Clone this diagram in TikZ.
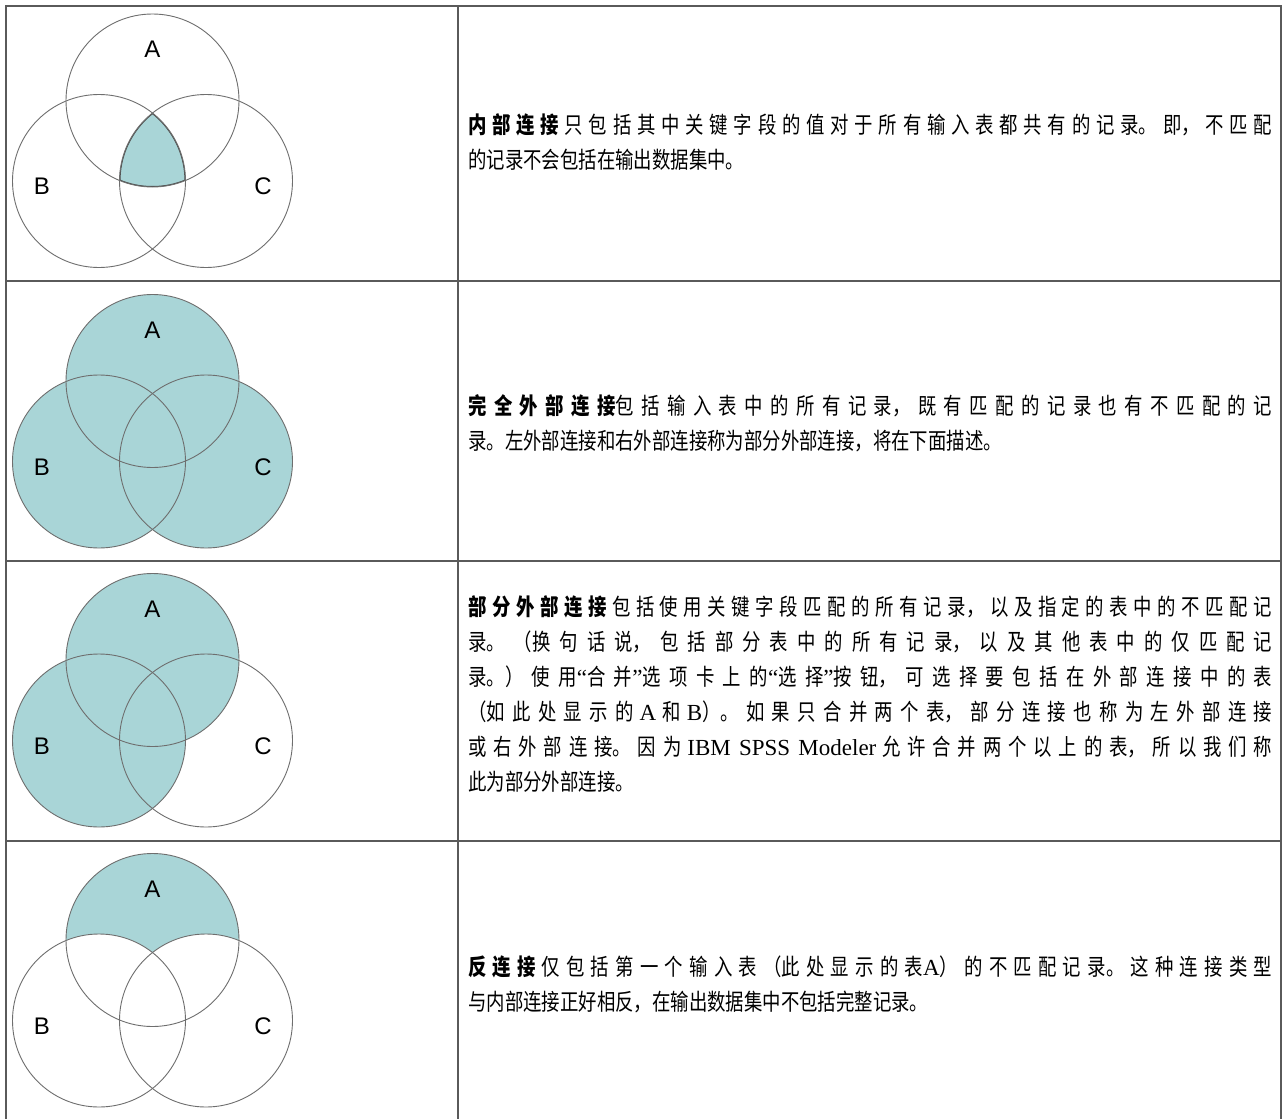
\documentclass[tikz,border=0pt]{standalone}
\usepackage{fontspec}
\setmainfont{Liberation Serif}
\newfontfamily\cjk[FakeStretch=0.8]{Noto Sans CJK SC}
\newfontfamily\lat{Liberation Serif}
\newfontfamily\lab{Liberation Sans}
\XeTeXlinebreaklocale "zh"
\XeTeXlinebreakskip=0pt plus 8pt
\definecolor{vteal}{RGB}{169,213,215}
\definecolor{ringgray}{RGB}{110,110,110}
\definecolor{tblgray}{RGB}{90,90,90}
\newcommand\VennRings[1]{%
  \draw[ring] (152.5,#1) circle[radius=86.5];
  \draw[ring] (99,#1+80.5) circle[radius=86.5];
  \draw[ring] (206,#1+80.5) circle[radius=86.5];
  \node[lbl] at (152.5,#1-51) {A};
  \node[lbl] at (42,#1+86) {B};
  \node[lbl] at (263,#1+86) {C};
}
\begin{document}
\begin{tikzpicture}[x=1pt,y=-1pt,
  ring/.style={draw=ringgray, line width=0.9pt},
  tfill/.style={fill=vteal},
  wfill/.style={fill=white},
  lbl/.style={font=\lab\fontsize{24}{24}\selectfont, text=black, inner sep=0pt},
  tbl/.style={draw=tblgray, line width=2pt},
  desc/.style={anchor=west, text width=804pt, align=justify, inner sep=0pt,
    font=\cjk\fontsize{23}{35}\selectfont,
    execute at begin node={\tolerance=10000\hbadness=10000}}]
\useasboundingbox (0,0) rectangle (1283,1119);
\fill[white] (0,0) rectangle (1283,1119);
% row 1: inner join
\def\ba{100.5}
\begin{scope}
  \clip (152.5,\ba) circle[radius=86.5];
  \clip (99,\ba+80.5) circle[radius=86.5];
  \clip (206,\ba+80.5) circle[radius=86.5];
  \fill[tfill] (206,\ba+80.5) circle[radius=86.5];
  \draw[draw=ringgray!70!black, line width=2pt] (152.5,\ba) circle[radius=86.5];
  \draw[draw=ringgray!70!black, line width=2pt] (99,\ba+80.5) circle[radius=86.5];
  \draw[draw=ringgray!70!black, line width=2pt] (206,\ba+80.5) circle[radius=86.5];
\end{scope}
\VennRings{\ba}
% row 2: full outer join
\def\bb{381}
\fill[tfill] (152.5,\bb) circle[radius=86.5];
\fill[tfill] (99,\bb+80.5) circle[radius=86.5];
\fill[tfill] (206,\bb+80.5) circle[radius=86.5];
\VennRings{\bb}
% row 3: partial outer join
\def\bc{660}
\fill[tfill] (152.5,\bc) circle[radius=86.5];
\fill[tfill] (99,\bc+80.5) circle[radius=86.5];
\VennRings{\bc}
% row 4: anti join
\def\bd{940}
\fill[tfill] (152.5,\bd) circle[radius=86.5];
\fill[wfill] (99,\bd+80.5) circle[radius=86.5];
\fill[wfill] (206,\bd+80.5) circle[radius=86.5];
\VennRings{\bd}
% table
\draw[tbl] (6,1125) -- (6,6) -- (1281,6) -- (1281,1125);
\draw[tbl] (458,6) -- (458,1125);
\draw[tbl] (6,281) -- (1281,281);
\draw[tbl] (6,561) -- (1281,561);
\draw[tbl] (6,841) -- (1281,841);
% texts
\node[desc] (t1) at (468,142.5) {{\bfseries 内部连接} 只包括其中关键字段的值对于所有输入表都共有的记录。即， 不匹配\linebreak 的记录不会包括在输出数据集中。};
\node[desc] (t2) at (468,423.5) {{\bfseries 完全外部连接}包括输入表中的所有记录，既有匹配的记录也有不匹配的记\linebreak 录。左外部连接和右外部连接称为部分外部连接，将在下面描述。};
\node[desc] (t3) at (468,694) {{\bfseries 部分外部连接} 包括使用关键字段匹配的所有记录，以及指定的表中的不匹配记\linebreak 录。（换句话说，包括部分表中的所有记录，以及其他表中的仅匹配记\linebreak 录。）使用{\lat “}合并{\lat ”}选项卡上的{\lat “}选择{\lat ”}按钮，可选择要包括在外部连接中的表\linebreak （如此处显示的 {\lat A} 和 {\lat B}）。如果只合并两个表，部分连接也称为左外部连接\linebreak 或右外部连接。因为 {\lat IBM SPSS Modeler} 允许合并两个以上的表，所以我们称\linebreak 此为部分外部连接。};
\node[desc] (t4) at (468,984) {{\bfseries 反连接} 仅包括第一个输入表（此处显示的表{\lat A}）的不匹配记录。这种连接类型\linebreak 与内部连接正好相反，在输出数据集中不包括完整记录。};
\end{tikzpicture}
\end{document}
